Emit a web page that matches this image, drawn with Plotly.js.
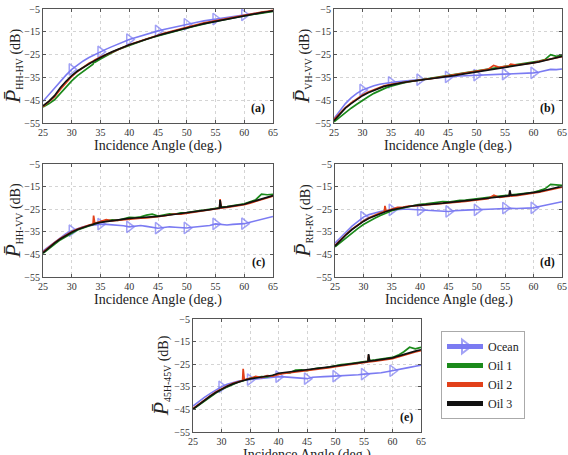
<!DOCTYPE html>
<html><head><meta charset="utf-8">
<script src="https://cdn.plot.ly/plotly-3.0.1.min.js"></script>
<style>body{margin:0;background:#fff}#chart{width:568px;height:455px}</style>
</head><body><div id="chart"></div>
<script>
const oceanAngle=[25,26,27,28,29,30,31,32,33,34,35,36,37,38,39,40,41,42,43,44,45,46,47,48,49,50,51,52,53,54,55,56,57,58,59,60,61,62,63,64,65];
const oilAngle=[25,26,27,28,29,30,31,32,33,33.7,33.8,34,35,36,37,38,39,40,41,42,43,44,45,46,47,48,49,50,51,52,53,54,55,55.7,55.8,56,57,58,59,60,61,62,63,64,65];
const seriesNames=['Ocean','Oil 1','Oil 2','Oil 3'];
const panelLabels=['(a)','(b)','(c)','(d)','(e)'];
const channelLabels=['HH-HV','VH-VV','HH-VV','RH-RV','45H-45V'];
const xTitle='Incidence Angle (deg.)';
const xTicks=[25,30,35,40,45,50,55,60,65];
const yTicks=[-55,-45,-35,-25,-15,-5];

// (a)
const ocean_a=[-45.5,-42.5,-39.5,-36.8,-34,-31.5,-29.5,-27.8,-26.3,-25,-23.8,-22.6,-21.5,-20.4,-19.4,-18.4,-17.6,-16.8,-16,-15.3,-14.6,-14,-13.4,-12.8,-12.2,-11.7,-11.2,-10.7,-10.2,-9.8,-9.4,-9,-8.6,-8.2,-7.9,-7.6,-7.2,-6.9,-6.6,-6.3,-6];
const oil1_a=[-48,-46.6,-44.8,-42,-39.3,-36.5,-34.2,-32.2,-30.2,-29.2,-28.4,-28.4,-26.9,-25.4,-24.2,-22.9,-21.9,-20.9,-20,-19.1,-18.2,-17.5,-16.8,-16,-15.3,-14.5,-13.9,-13.4,-12.8,-12.1,-11.5,-11,-10.5,-10.2,-10.1,-10,-9.5,-8.9,-8.5,-8,-7.6,-7.3,-6.9,-6.5,-6];
const oil2_a=[-47.8,-45.8,-43.6,-40.3,-37.3,-34.6,-32.4,-30.4,-28.8,-27.9,-27.6,-27.4,-26.1,-25,-23.8,-22.7,-21.6,-20.7,-19.8,-18.9,-18,-17.3,-16.5,-15.7,-15,-14.3,-13.7,-13,-12.3,-11.7,-11.1,-10.6,-10.1,-9.8,-9.7,-9.6,-9.1,-8.6,-8.1,-7.6,-7.2,-6.8,-6.4,-6,-5.6];
const oil3_a=[-47.5,-45.5,-43,-39.5,-36.7,-34.2,-32.2,-30.5,-29,-28,-27.9,-27.6,-26.3,-25,-23.8,-22.7,-21.7,-20.7,-19.9,-19,-18.2,-17.4,-16.6,-15.9,-15.2,-14.5,-13.8,-13.2,-12.6,-12,-11.4,-10.9,-10.3,-10,-9.9,-9.8,-9.3,-8.8,-8.3,-7.9,-7.4,-7,-6.6,-6.2,-5.8];
// (b)
const ocean_b=[-53,-49.5,-46.5,-44,-42,-40.5,-39.5,-38.7,-38,-37.5,-37.2,-36.9,-36.6,-36.4,-36.2,-36,-35.7,-35.5,-35.2,-35,-34.8,-34.6,-34.4,-34.3,-34.2,-34,-34,-33.9,-33.8,-33.7,-33.6,-33.5,-33.4,-33.3,-33.1,-33,-32.6,-32.2,-31.5,-31.6,-31.3];
const oil1_b=[-54.5,-52.5,-50.3,-48.5,-46.8,-45,-43.5,-42,-40.8,-40,-39.9,-39.7,-38.8,-38,-37.5,-37,-36.6,-36.2,-35.9,-35.6,-35.3,-34.8,-34.4,-34,-33.6,-33.2,-32.7,-32.4,-32,-31.6,-31.1,-30.8,-30.4,-30.2,-30.1,-30,-29.7,-29.3,-28.9,-28.4,-27.8,-27.2,-25,-25.8,-25.2];
const oil2_b=[-53.5,-50.8,-48.3,-46.2,-44.3,-42.7,-41.4,-40.3,-39.4,-38.8,-38.7,-38.6,-38,-37.6,-37.1,-36.8,-36.4,-36.1,-35.8,-35.5,-35.1,-34.7,-34.3,-33.9,-33.5,-33.1,-32.7,-32.2,-31.7,-31.5,-29.8,-30.6,-30.2,-30,-29.6,-29.2,-29.6,-29.3,-29,-28.6,-28,-27.5,-26.8,-26.3,-25.9];
const oil3_b=[-54,-51,-48.5,-46.5,-44.6,-43,-41.7,-40.6,-39.6,-39,-38.95,-38.8,-38.2,-37.7,-37.3,-36.9,-36.6,-36.3,-36,-35.7,-35.4,-35,-34.6,-34.2,-33.8,-33.4,-33,-32.6,-32.2,-31.8,-31.4,-31,-30.6,-30.4,-30.35,-30.3,-30,-29.6,-29.2,-28.7,-28.2,-27.6,-27,-26.4,-25.8];
// (c)
const ocean_c=[-43.5,-41.5,-39.5,-37.5,-35.8,-34.5,-33.5,-32.8,-32.3,-31.9,-31.6,-31.7,-31.9,-32,-32.3,-32.8,-32.4,-32.2,-32.6,-33,-33.4,-33.1,-32.8,-33,-33.2,-33.3,-33,-32.8,-32.6,-32.2,-31.5,-31.8,-32,-31.7,-31.5,-31.4,-30.8,-30.2,-29.5,-28.8,-28.2];
const oil1_c=[-44.5,-42.3,-40.5,-38.6,-37,-35.6,-34.2,-33.2,-32.3,-31.8,-31.7,-31.5,-30.6,-30.2,-29.7,-29.9,-29.3,-28.6,-28.7,-28.4,-27.6,-27.2,-28,-27.5,-27.1,-27.2,-26.6,-26.5,-26,-25.7,-25.4,-25,-24.6,-24.4,-22.5,-24.1,-23.8,-23.4,-23,-22.6,-21.7,-20.8,-18.3,-18.6,-18.4];
const oil2_c=[-44,-41.8,-39.8,-38,-36.4,-35,-33.8,-32.8,-32,-31.6,-27.8,-31.2,-30.5,-29.6,-30.2,-29.9,-29.6,-29.3,-29.1,-29,-28.8,-28.6,-28.3,-28,-27.5,-27.1,-27.2,-26.8,-26.2,-26.1,-25.5,-25.3,-24.9,-24.6,-20.5,-24.5,-24.2,-23.9,-23.6,-23,-22.3,-21.5,-20.9,-20.2,-19.2];
const oil3_c=[-44.3,-42,-40,-38.2,-36.6,-35.2,-34,-33,-32.2,-31.7,-31.6,-31.4,-30.8,-30.4,-30.1,-29.8,-29.5,-29.1,-28.9,-28.8,-28.6,-28.4,-28.2,-27.9,-27.6,-27.3,-27,-26.7,-26.4,-26,-25.6,-25.2,-24.8,-24.5,-21,-24.3,-24,-23.6,-23.3,-22.8,-22,-21.3,-20.6,-20,-19];
// (d)
const ocean_d=[-40,-37.3,-35,-32.5,-30.3,-28.5,-27.4,-26.6,-26,-25.6,-25.3,-25.1,-25,-25,-25.1,-25.3,-25.4,-25.5,-25.6,-25.8,-26,-25.7,-25.4,-25.4,-25.3,-25.3,-25.2,-25,-24.9,-24.7,-24.5,-24.6,-24.7,-24.6,-24.5,-24.4,-23.8,-23.2,-22.6,-22.1,-21.7];
const oil1_d=[-41.6,-39.5,-37.5,-35.5,-33.6,-31.8,-30.3,-29,-27.8,-27,-26.9,-26.6,-25.7,-25,-24.4,-23.9,-23.2,-22.8,-22.6,-22.2,-22.1,-21.6,-21.8,-21.4,-21.1,-21,-20.6,-20.4,-20.1,-19.8,-19.6,-19.3,-19,-18.8,-18.2,-18.7,-18.4,-18.1,-17.8,-17.5,-16.8,-16,-14,-14.2,-14.5];
const oil2_d=[-41,-38.3,-36,-33.8,-31.8,-30.2,-28.8,-27.6,-26.6,-26.1,-23.5,-25.8,-25,-24.2,-24.1,-23.6,-23.5,-23.3,-23.2,-23,-22.8,-22.6,-22.4,-22.1,-21.8,-21.5,-21.2,-20.9,-20.6,-20.3,-18.8,-19.8,-19.5,-19.3,-17.5,-19.2,-19,-18.7,-18.4,-18.1,-17.5,-16.9,-16.3,-15.8,-15.2];
const oil3_d=[-41.3,-38.5,-36.2,-34,-32,-30.4,-29,-27.9,-26.9,-26.3,-26.2,-26,-25.3,-24.7,-24.2,-23.8,-23.4,-23.1,-22.9,-22.7,-22.5,-22.3,-22.1,-21.8,-21.5,-21.2,-21,-20.7,-20.4,-20.1,-19.8,-19.5,-19.2,-19,-16.6,-18.9,-18.7,-18.4,-18.1,-17.8,-17.2,-16.6,-16,-15.4,-14.9];
// (e)
const ocean_e=[-43.5,-41.5,-39.7,-38,-36.4,-35,-33.9,-33.1,-32.5,-32.1,-31.8,-31.5,-31.2,-31,-30.8,-30.5,-30.6,-30.8,-31,-31.2,-31.4,-30.8,-30.5,-30.5,-30.4,-30.3,-30.2,-30.1,-30,-29.7,-29.4,-29.3,-29.2,-28.8,-28.3,-27.9,-27.4,-26.9,-26.4,-25.9,-25.4];
const oil1_e=[-45,-43.1,-41.3,-39.5,-37.8,-36.2,-35,-33.8,-32.9,-32.4,-32.3,-32.2,-31.3,-31,-30.5,-30.6,-30,-29.3,-28.8,-28.8,-27.6,-27.5,-27.9,-27.2,-26.7,-26.7,-26.1,-25.6,-25.2,-24.9,-24.5,-24.1,-23.8,-23.6,-22,-23.4,-23.1,-22.8,-22.4,-22,-21,-19.5,-17.5,-18.2,-17.5];
const oil2_e=[-44.6,-42.6,-40.8,-39,-37.3,-35.8,-34.6,-33.5,-32.6,-32.2,-27,-31.9,-31.3,-30.4,-30.9,-30.1,-30.3,-29.5,-29.1,-28.8,-28.6,-28.3,-28,-27.7,-27.3,-26.9,-26.5,-26.1,-25.7,-25.3,-25,-24.6,-24.2,-24,-21,-23.9,-23.6,-23.3,-23,-22.6,-21.8,-21,-20.3,-19.6,-19];
const oil3_e=[-44.8,-42.8,-41,-39.2,-37.5,-36,-34.8,-33.7,-32.8,-32.3,-32.2,-32.1,-31.5,-31.1,-30.8,-30.4,-29.9,-29,-28.7,-28.4,-28.2,-28,-27.7,-27.4,-27,-26.6,-26.2,-25.8,-25.4,-25,-24.7,-24.3,-24,-23.8,-20.5,-23.6,-23.3,-23,-22.6,-22.2,-21.4,-20.6,-19.8,-19.2,-18.6];

const panels=[
  [ocean_a,oil1_a,oil2_a,oil3_a],
  [ocean_b,oil1_b,oil2_b,oil3_b],
  [ocean_c,oil1_c,oil2_c,oil3_c],
  [ocean_d,oil1_d,oil2_d,oil3_d],
  [ocean_e,oil1_e,oil2_e,oil3_e]
];

const W=568,H=455;
const boxes=[[43,273,9,123],[334,562,9,123],[43,273,164,277],[335,562,164,277],[193,421,319,432]];
const colors=['#7b7bf2','#1b8a1b','#e2401a','#111111'];
const FONT='"Liberation Serif", "DejaVu Serif", serif';

const traces=[];
const layout={width:W,height:H,margin:{l:0,r:0,t:0,b:0},paper_bgcolor:'#fff',plot_bgcolor:'#fff',
  font:{family:FONT},
  showlegend:true,
  legend:{x:441/W,y:1-331/H,xanchor:'left',yanchor:'top',bgcolor:'#fff',bordercolor:'#aaa',borderwidth:1,
    font:{family:FONT,size:12,color:'#222'},itemsizing:'constant',tracegroupgap:0,itemwidth:36},
  annotations:[]};

const markerSizes=oceanAngle.map(a=>(a%5===0&&a>=30&&a<=60)?10:0);

panels.forEach((p,i)=>{
  const n=i+1, sx=n===1?'':String(n);
  const xa='x'+sx, ya='y'+sx;
  const b=boxes[i];
  layout['xaxis'+sx]={domain:[b[0]/W,b[1]/W],range:[25,65],anchor:ya,tickvals:xTicks,
    ticks:'inside',ticklen:3,tickcolor:'#555',showline:true,linecolor:'#555',linewidth:1,mirror:'ticks',
    showgrid:true,gridcolor:'#d4d4d4',griddash:'dot',zeroline:false,
    tickfont:{family:FONT,size:10,color:'#333'}};
  layout['yaxis'+sx]={domain:[1-b[3]/H,1-b[2]/H],range:[-55,-5],anchor:xa,tickvals:yTicks,
    ticks:'inside',ticklen:3,tickcolor:'#555',showline:true,linecolor:'#555',linewidth:1,mirror:'ticks',
    showgrid:true,gridcolor:'#d4d4d4',griddash:'dot',zeroline:false,
    tickfont:{family:FONT,size:10,color:'#333'},
    title:{text:'<span style="font-size:22px"><i>P̄</i></span><sub>'+channelLabels[i]+'</sub> (dB)',font:{family:FONT,size:14,color:'#222'},standoff:2}};
  traces.push({x:oceanAngle,y:p[0],xaxis:xa,yaxis:ya,type:'scatter',mode:'lines+markers',name:seriesNames[0],
    legendgroup:'s0',showlegend:i===0,line:{color:colors[0],width:1.6},
    marker:{symbol:'triangle-right-open',size:markerSizes,color:colors[0],line:{width:1.5,color:colors[0]}}});
  for(let k=1;k<4;k++){
    traces.push({x:oilAngle,y:p[k],xaxis:xa,yaxis:ya,type:'scatter',mode:'lines',name:seriesNames[k],
      legendgroup:'s'+k,showlegend:i===0,line:{color:colors[k],width:1.7}});
  }
  layout.annotations.push({text:'<b>'+panelLabels[i]+'</b>',xref:xa,yref:ya,x:62.4,y:-48.5,showarrow:false,
    font:{family:FONT,size:12,color:'#111'}});
  layout.annotations.push({text:xTitle,xref:'paper',yref:'paper',x:(b[0]+b[1])/2/W,y:1-(b[3]+13)/H,
    xanchor:'center',yanchor:'top',showarrow:false,font:{family:FONT,size:14,color:'#222'}});
});

Plotly.newPlot('chart',traces,layout,{displayModeBar:false,staticPlot:true});
</script></body></html>
